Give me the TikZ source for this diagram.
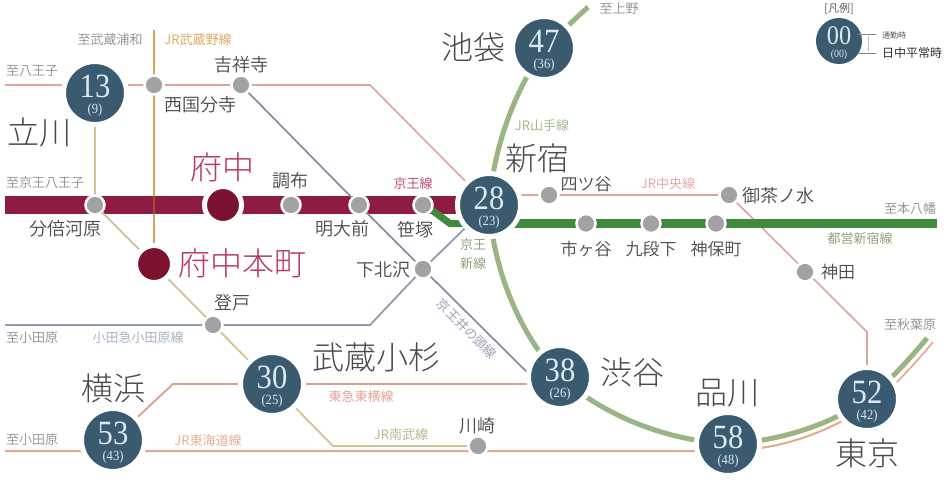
\documentclass[tikz,border=0pt]{standalone}
\usepackage{fontspec}
\setmainfont{Liberation Serif}
\newfontfamily\jp{Noto Sans CJK JP DemiLight}
\newfontfamily\jpl{Noto Sans CJK JP Light}
\newfontfamily\jpb{Noto Sans CJK JP}
\newfontfamily\nm[FakeStretch=.9]{Liberation Serif}
\usetikzlibrary{backgrounds}
\definecolor{teal1}{HTML}{3A5A70}
\definecolor{numc}{HTML}{DCE9F0}
\definecolor{crim}{HTML}{8E1C42}
\definecolor{crimd}{HTML}{7A1230}
\definecolor{crimt}{HTML}{B83A63}
\definecolor{stg}{HTML}{A2A2A4}
\definecolor{txt}{HTML}{4A4A4A}
\definecolor{dest}{HTML}{8E8E8E}
\definecolor{lmus}{HTML}{D6A552}
\definecolor{lchu}{HTML}{D9A79C}
\definecolor{lnam}{HTML}{CFC394}
\definecolor{lino}{HTML}{85849F}
\definecolor{loda}{HTML}{8E9BB0}
\definecolor{ltoy}{HTML}{DF9C90}
\definecolor{ltok}{HTML}{E9A58E}
\definecolor{lyam}{HTML}{9AB584}
\definecolor{ltoe}{HTML}{3F8A3F}
\newcommand\bn[2]{\raisebox{-4.5pt}[0pt][0pt]{\makebox[0pt]{\fontsize{34}{34}\nm\selectfont #1}}\raisebox{-20pt}[0pt][0pt]{\makebox[0pt]{\fontsize{14}{14}\nm\selectfont #2}}}
\newcommand\bnl[2]{\raisebox{-3pt}[0pt][0pt]{\makebox[0pt]{\fontsize{27}{27}\nm\selectfont #1}}\raisebox{-16pt}[0pt][0pt]{\makebox[0pt]{\fontsize{11}{11}\nm\selectfont #2}}}
\tikzset{
 big/.style={circle,fill=teal1,draw=white,line width=5pt,minimum size=63pt,inner sep=0pt,text=numc},
 leg/.style={circle,fill=teal1,minimum size=46pt,inner sep=0pt,text=numc},
 stn/.style={circle,fill=stg,draw=white,line width=2.5pt,minimum size=19pt,inner sep=0pt},
 hub/.style={circle,fill=crimd,draw=white,line width=5pt,minimum size=37pt,inner sep=0pt},
 huge/.style={font=\jpl\fontsize{32}{32}\selectfont,text=txt,inner sep=0pt},
 huger/.style={huge,text=crimt},
 mid/.style={font=\jp\fontsize{18}{18}\selectfont,text=txt,inner sep=0pt},
 midb/.style={font=\jp\fontsize{17}{17}\selectfont,text=txt,inner sep=0pt},
 sm/.style={font=\jp\fontsize{13}{19}\selectfont,inner sep=0pt,align=center},
 dst/.style={sm,text=dest},
}
\begin{document}
\begin{tikzpicture}[x=1pt,y=-1pt]
\useasboundingbox (0,0) rectangle (948,482);
% big stations
\node[big] (tachikawa) at (95,93) {\bn{13}{(9)}};
\node[big] (ikebukuro) at (544,48) {\bn{47}{(36)}};
\node[big] (shinjuku) at (489,205) {\bn{28}{(23)}};
\node[big] (shibuya) at (560,377) {\bn{38}{(26)}};
\node[big] (shinagawa) at (728,444) {\bn{58}{(48)}};
\node[big] (tokyo) at (867,399) {\bn{52}{(42)}};
\node[big] (kosugi) at (272,384) {\bn{30}{(25)}};
\node[big] (yokohama) at (113,440) {\bn{53}{(43)}};
\node[leg] (legend) at (839,41) {\bnl{00}{(00)}};
% small stations
\node[stn] (nishikoku) at (154,85) {};
\node[stn] (kichijoji) at (241,85) {};
\node[stn] (bubai) at (95,205) {};
\node[stn] (chofu) at (291,205) {};
\node[stn] (meidai) at (359,205) {};
\node[stn] (sasazuka) at (423,205) {};
\node[stn] (yotsuya) at (549,195) {};
\node[stn] (ichigaya) at (586,223.5) {};
\node[stn] (kudan) at (651,223.5) {};
\node[stn] (jimbo) at (716,223.5) {};
\node[stn] (ochanomizu) at (729,195) {};
\node[stn] (kanda) at (805,272) {};
\node[stn] (shimokita) at (423,269) {};
\node[stn] (noborito) at (213,325) {};
\node[stn] (kawasaki) at (478,446) {};
\node[hub] (fuchu) at (223,205) {};
\node[hub] (honmachi) at (154,264) {};
% free ends and bends
\coordinate (e1) at (5,85); \coordinate (e2) at (154,30); \coordinate (e3) at (5,205);
\coordinate (e4) at (5,325); \coordinate (e5) at (5,451); \coordinate (e6) at (937,223.5);
\coordinate (e7) at (588,7); \coordinate (e8) at (927,338); \coordinate (e9) at (933,342);
\coordinate (b1) at (370,85); \coordinate (b2) at (867,332); \coordinate (b3) at (370,325);
\coordinate (b4) at (173,384); \coordinate (b5) at (333,446); \coordinate (b6) at (433,211);
\coordinate (b7) at (450,223.5); \coordinate (b8) at (728,451); \coordinate (b9) at (862,410);
\coordinate (b10) at (870,407); \coordinate (b11) at (538,383);
\begin{scope}[on background layer,line cap=butt]
 \fill[white] (0,0) rectangle (948,482);
 \draw[lmus,line width=2pt] (e2) -- (honmachi.center);
 \draw[crim,line width=18pt] (e3) -- (shinjuku.center);
 \draw[lmus,line width=1.2pt,opacity=.35] (nishikoku.center) -- (honmachi.center);
 \draw[lchu,line width=1.6pt] (e1) -- (b1) -- (shinjuku.center);
 \draw[lchu,line width=1.6pt] (shinjuku.center |- yotsuya) -- (ochanomizu.center) -- (b2) -- (tokyo.center);
 \draw[lnam,line width=1.8pt] (tachikawa.center) -- (bubai.center) -- (kosugi.center) -- (b5) -- (kawasaki.center);
 \draw[lino,line width=1.6pt] (kichijoji.center) -- (meidai.center) -- (shimokita.center) -- (b11);
 \draw[loda,line width=1.8pt] (e4) -- (b3) -- (shimokita.center) -- (shinjuku.center);
 \draw[ltoy,line width=1.8pt] (yokohama.center) -- (b4) -- (kosugi.center) -- (kosugi.center -| shibuya.center);
 \draw[ltok,line width=2pt] (e5) -- (b8) .. controls (785,449) and (825,432) .. (b9);
 \draw[ltok,line width=1.6pt] (b10) .. controls (880,400) and (910,370) .. (e9);
 \draw[lyam,line width=5pt] (e7) -- (ikebukuro.center) .. controls (510,100) and (494,150) .. (shinjuku.center)
   .. controls (493,270) and (520,335) .. (shibuya.center)
   .. controls (610,420) and (670,440) .. (shinagawa.center)
   .. controls (780,441) and (830,425) .. (tokyo.center)
   .. controls (878,392) and (905,365) .. (e8);
 \draw[ltoe,line width=7pt] (sasazuka.center) -- (b6) -- (b7) -- (shinjuku.center |- b7);
 \draw[ltoe,line width=9pt] (shinjuku.center |- b7) -- (e6);
\end{scope}
% legend
\draw[gray,line width=.8pt] (857,34) -- (876,34) (857,53) -- (876,53);
\draw[lightgray,line width=.6pt] (868,36) -- (868,51);
\node[font=\jp\fontsize{11}{11}\selectfont,text=txt,inner sep=0pt] (lgT) at (839,9) {[凡例]};
\node[font=\jp\fontsize{8}{8}\selectfont,text=txt,inner sep=0pt] (lgA) at (894,35) {通勤時};
\node[font=\jpb\fontsize{12}{12}\selectfont,text=black!80,inner sep=0pt] (lgB) at (912,53) {日中平常時};
% large labels
\node[huge] (tTachikawa) at (39,132) {立川};
\node[huge] (tIke) at (473,47) {池袋};
\node[huge] (tShinjuku) at (537,158) {新宿};
\node[huge] (tKosugi) at (376,357) {武蔵小杉};
\node[huge] (tYoko) at (113,388) {横浜};
\node[huge] (tShibuya) at (632,372) {渋谷};
\node[huge] (tShina) at (727,393) {品川};
\node[huge] (tTokyo) at (867,453) {東京};
\node[huger] (tFuchu) at (222,167) {府中};
\node[huger] (tHonmachi) at (242,263) {府中本町};
% station labels
\node[mid] (tKichi) at (241,65) {吉祥寺};
\node[mid] (tNishi) at (200,105) {西国分寺};
\node[mid] (tChofu) at (290,181) {調布};
\node[mid] (tBubai) at (65,229) {分倍河原};
\node[mid] (tMeidai) at (342,229) {明大前};
\node[mid] (tSasa) at (415,230) {笹塚};
\node[midb] (tYotsu) at (586,184) {四ツ谷};
\node[mid] (tOcha) at (778,196) {御茶ノ水};
\node[midb] (tIchi) at (586,249) {市ヶ谷};
\node[midb] (tKudan) at (651,249) {九段下};
\node[midb] (tJimbo) at (716,249) {神保町};
\node[midb] (tKanda) at (838,272) {神田};
\node[mid] (tShimo) at (383,270) {下北沢};
\node[mid] (tNobo) at (232,303) {登戸};
\node[mid] (tKawa) at (477,426) {川崎};
% destinations
\node[dst] (dUrawa) at (110,40) {至武蔵浦和};
\node[dst] (dHachi) at (32,71) {至八王子};
\node[dst] (dKeio) at (45,183) {至京王八王子};
\node[dst] (dUeno) at (619,9) {至上野};
\node[dst] (dMoto) at (910,209) {至本八幡};
\node[dst] (dOda1) at (32,338) {至小田原};
\node[dst] (dOda2) at (32,440) {至小田原};
\node[dst] (dAkiba) at (910,325) {至秋葉原};
% line labels
\node[sm,text=lmus] (lMus) at (198,40) {JR武蔵野線};
\node[sm,text=crimt] (lKeio) at (413,184) {京王線};
\node[sm,text=lyam] (lYam) at (542,126) {JR山手線};
\node[sm,text=lchu] (lChu) at (668,184) {JR中央線};
\node[sm,text=lyam!85!black] (lToei) at (860,239) {都営新宿線};
\node[sm,text=lyam!85!black] (lNew) at (473,254) {京王\\新線};
\node[sm,text=lino!85!white,rotate=-45] (lIno) at (467,329) {京王井の頭線};
\node[sm,text=loda!85!white] (lOda) at (138,338) {小田急小田原線};
\node[sm,text=ltok] (lTok) at (208,441) {JR東海道線};
\node[sm,text=ltoy] (lToy) at (361,397) {東急東横線};
\node[sm,text=lnam!90!black] (lNam) at (401,435) {JR南武線};
\end{tikzpicture}
\end{document}
